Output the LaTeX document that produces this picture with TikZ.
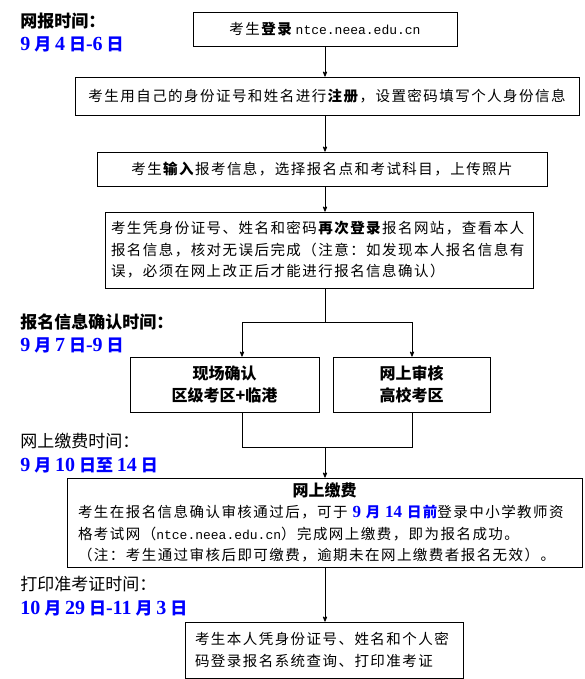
\documentclass[tikz,border=0pt]{standalone}
\usepackage{fontspec}
\usepackage{xcolor}
\setmainfont{Noto Sans CJK SC}[LetterSpace=10]
\newfontfamily\lblfont{Noto Sans CJK SC}
\newfontfamily\numfont{Liberation Serif}
\newfontfamily\urlfont{Liberation Mono}
\usetikzlibrary{arrows}

\definecolor{dateblue}{RGB}{0,0,255}
\newcommand{\boxtext}{\fontsize{14.5}{21.5}\selectfont}
\newcommand{\headtext}{\lblfont\bfseries\fontsize{16}{22}\selectfont}
\newcommand{\numb}[1]{{\numfont\bfseries\fontsize{20}{22}\selectfont #1}}
\newcommand{\numbs}[1]{{\numfont\bfseries\fontsize{17}{20}\selectfont #1}}
\newcommand{\url}[1]{{\urlfont\fontsize{13}{20}\selectfont #1}}

\begin{document}
\begin{tikzpicture}[->,>=stealth',x=1pt,y=-1pt,line width=0.8pt]
	\tikzstyle{every node}=[font=\boxtext]
	\tikzstyle{box}=[draw,-,rectangle,inner xsep=6pt,inner ysep=3pt,align=center]
	\tikzstyle{title}=[anchor=west,inner sep=0pt,font=\lblfont\fontsize{17}{19}\selectfont]
	\tikzstyle{datum}=[title,font=\lblfont\bfseries\fontsize{17}{19}\selectfont,text=dateblue]

	\useasboundingbox (0,0) rectangle (585,679);

	% steps
	\node[box,minimum width=264pt,minimum height=34pt] (login) at (325,29) {考生\textbf{登录}\,\url{ntce.neea.edu.cn}};
	\node[box,minimum width=504pt,minimum height=38pt] (register) at (327,96) {考生用自己的身份证号和姓名进行\textbf{注册}，设置密码填写个人身份信息};
	\node[box,minimum width=450pt,minimum height=34pt] (input) at (322,169) {考生\textbf{输入}报考信息，选择报名点和考试科目，上传照片};
	\node[box,align=left,text width=416pt,minimum height=76pt] (check) at (319,250) {考生凭身份证号、姓名和密码\textbf{再次登录}报名网站，查看本人\\报名信息，核对无误后完成（注意：如发现本人报名信息有\\误，必须在网上改正后才能进行报名信息确认）};
	\node[box,minimum width=189pt,minimum height=55pt,font=\headtext] (onsite) at (224.5,384.5) {现场确认\\区级考区+临港};
	\node[box,minimum width=157pt,minimum height=55pt,font=\headtext] (online) at (411.5,384.5) {网上审核\\高校考区};
	\node[box,align=left,text width=493pt,inner xsep=11pt,minimum height=89pt] (pay) at (324.5,522.5) {\makebox[493pt]{\headtext 网上缴费}\\
		考生在报名信息确认审核通过后，可于{\color{dateblue}\bfseries~\numbs{9}~月~\numbs{14}~日前}登录中小学教师资\\
		格考试网（\url{ntce.neea.edu.cn}）完成网上缴费，即为报名成功。\\
		（注：考生通过审核后即可缴费，逾期未在网上缴费者报名无效）。};
	\node[box,align=left,text width=258pt,inner xsep=10pt,minimum height=56pt] (ticket) at (324,650) {考生本人凭身份证号、姓名和个人密\\码登录报名系统查询、打印准考证};

	% times
	\node[title,font=\lblfont\bfseries\fontsize{17}{19}\selectfont] (t1) at (20,21) {网报时间：};
	\node[datum] (d1) at (20,44) {\numb{9} 月 \numb{4} 日\numb{-6} 日};
	\node[title,font=\lblfont\bfseries\fontsize{17}{19}\selectfont] (t2) at (20,322) {报名信息确认时间：};
	\node[datum] (d2) at (20,345) {\numb{9} 月 \numb{7} 日\numb{-9} 日};
	\node[title] (t3) at (20,441) {网上缴费时间：};
	\node[datum] (d3) at (20,465) {\numb{9} 月 \numb{10} 日至 \numb{14} 日};
	\node[title] (t4) at (20,584) {打印准考证时间：};
	\node[datum] (d4) at (20,608) {\numb{10} 月 \numb{29} 日\numb{-11} 月 \numb{3} 日};

	\coordinate (split) at (325,322);
	\coordinate (lin) at (242,322);
	\coordinate (rin) at (412,322);
	\coordinate (lout) at (242,447);
	\coordinate (rout) at (412,447);
	\coordinate (merge) at (325,447);

	\draw (login) -- (login |- register.north);
	\draw (register.south -| login) -- (login |- input.north);
	\draw (input.south -| login) -- (login |- check.north);
	\draw[-] (check.south -| split) -- (split);
	\draw[-] (lin) -- (rin);
	\draw (lin) -- (lin |- onsite.north);
	\draw (rin) -- (rin |- online.north);
	\draw[-] (lout |- onsite.south) -- (lout) -- (rout) -- (rout |- online.south);
	\draw (merge) -- (merge |- pay.north);
	\draw (pay.south -| merge) -- (merge |- ticket.north);
\end{tikzpicture}
\end{document}
